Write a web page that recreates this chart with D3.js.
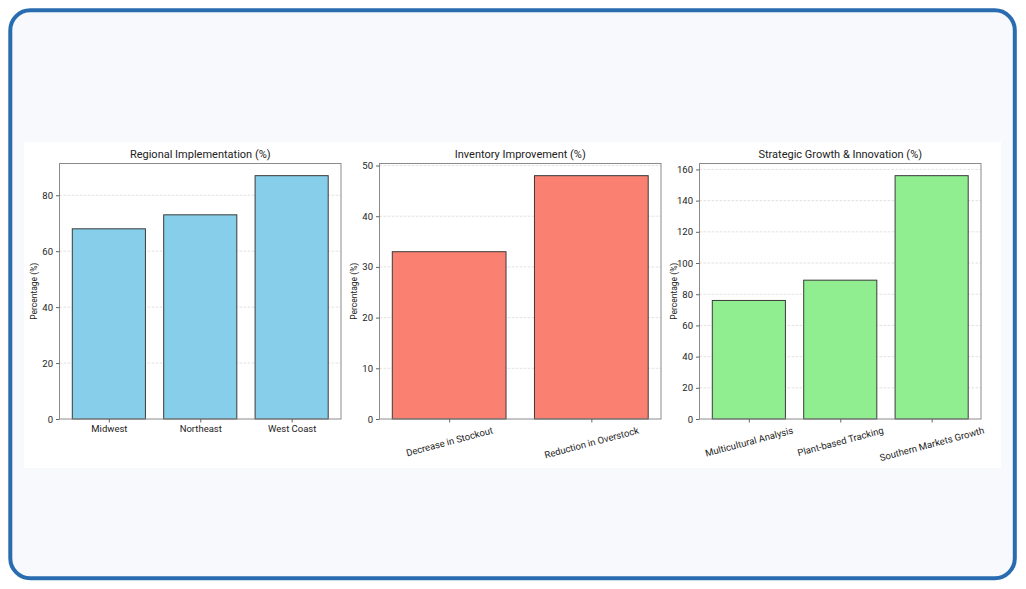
<!DOCTYPE html>
<html>
<head>
<meta charset="utf-8">
<script src="https://cdn.jsdelivr.net/npm/d3@7"></script>
<style>
  html, body { margin: 0; padding: 0; background: #ffffff; }
  svg { display: block; }
  text { font-family: Roboto, "Open Sans", sans-serif; fill: #222; }
</style>
</head>
<body>
<div id="chart"></div>
<script>
// data
let regionCats = ['Midwest', 'Northeast', 'West Coast'];
let regionVals = [68, 73, 87];

let inventoryCats = ['Decrease in Stockout', 'Reduction in Overstock'];
let inventoryVals = [33, 48];

let growthCats = ['Multicultural Analysis', 'Plant-based Tracking', 'Southern Markets Growth'];
let growthVals = [76, 89, 156];

let regionTicks = [0, 20, 40, 60, 80];
let inventoryTicks = [0, 10, 20, 30, 40, 50];
let growthTicks = [0, 20, 40, 60, 80, 100, 120, 140, 160];

let width = 1026;
let height = 589;

const svg = d3.select('#chart').append('svg')
  .attr('width', width)
  .attr('height', height);

// card background + frame
svg.append('rect')
  .attr('x', 10.3).attr('y', 10.3)
  .attr('width', 1004.5).attr('height', 568)
  .attr('rx', 20).attr('ry', 20)
  .attr('fill', '#f7f9fc')
  .attr('stroke', '#2a6cb0')
  .attr('stroke-width', 4);

// white figure area
svg.append('rect')
  .attr('x', 24).attr('y', 142)
  .attr('width', 977).attr('height', 326)
  .attr('fill', '#ffffff');

let panels = [
  { title: 'Regional Implementation (%)', cats: regionCats, vals: regionVals, ticks: regionTicks, color: '#87ceeb', left: 59.5, rotate: false },
  { title: 'Inventory Improvement (%)', cats: inventoryCats, vals: inventoryVals, ticks: inventoryTicks, color: '#fa8072', left: 379.5, rotate: true },
  { title: 'Strategic Growth & Innovation (%)', cats: growthCats, vals: growthVals, ticks: growthTicks, color: '#90ee90', left: 699.5, rotate: true }
];

let axTop = 163.5;
let axBottom = 419;
let axWidth = 281.5;

panels.forEach(p => {
  let n = p.cats.length;
  // matplotlib-like limits with 5% margins
  let x0 = -0.4, x1 = n - 1 + 0.4;
  let pad = (x1 - x0) * 0.05;
  let x = d3.scaleLinear()
    .domain([x0 - pad, x1 + pad])
    .range([p.left, p.left + axWidth]);

  let y = d3.scaleLinear()
    .domain([0, d3.max(p.vals) * 1.05])
    .range([axBottom, axTop]);

  let g = svg.append('g');

  // grid
  g.append('g')
    .selectAll('line')
    .data(p.ticks.filter(t => t > 0))
    .join('line')
    .attr('x1', p.left).attr('x2', p.left + axWidth)
    .attr('y1', d => y(d)).attr('y2', d => y(d))
    .attr('stroke', '#d4d4d4')
    .attr('stroke-width', 0.7)
    .attr('stroke-dasharray', '2.5,1.5');

  // bars
  g.append('g')
    .selectAll('rect')
    .data(p.vals)
    .join('rect')
    .attr('x', (d, i) => x(i - 0.4))
    .attr('width', (d, i) => x(i + 0.4) - x(i - 0.4))
    .attr('y', d => y(d))
    .attr('height', d => axBottom - y(d))
    .attr('fill', p.color)
    .attr('stroke', '#3a3a3a')
    .attr('stroke-width', 1);

  // frame
  g.append('rect')
    .attr('x', p.left).attr('y', axTop)
    .attr('width', axWidth).attr('height', axBottom - axTop)
    .attr('fill', 'none')
    .attr('stroke', '#8a8a8a')
    .attr('stroke-width', 1);

  // y axis
  let yAxis = g.append('g')
    .attr('transform', `translate(${p.left}, 0)`)
    .call(d3.axisLeft(y).tickValues(p.ticks).tickSize(3.5).tickPadding(3).tickFormat(d3.format('d')));
  yAxis.select('.domain').remove();
  yAxis.selectAll('.tick line').attr('stroke', '#666');
  yAxis.selectAll('.tick text').attr('font-size', 9.5).attr('fill', '#222').attr('font-family', 'Roboto, sans-serif');

  // x axis
  let xAxis = g.append('g')
    .attr('transform', `translate(0, ${axBottom})`)
    .call(d3.axisBottom(x).tickValues(d3.range(n)).tickSize(3.5).tickPadding(3).tickFormat(i => p.cats[i]));
  xAxis.select('.domain').remove();
  xAxis.selectAll('.tick line').attr('stroke', '#666');
  xAxis.selectAll('.tick text')
    .attr('font-size', 9.5).attr('fill', '#222').attr('font-family', 'Roboto, sans-serif');

  if (p.rotate) {
    xAxis.selectAll('.tick text').each(function() {
      let t = d3.select(this);
      let w = this.getComputedTextLength();
      let h = 11;
      let a = 15 * Math.PI / 180;
      let half = (w * Math.sin(a) + h * Math.cos(a)) / 2;
      t.attr('y', null).attr('dy', null)
        .attr('dominant-baseline', 'middle')
        .attr('transform', `translate(0, ${6.5 + half}) rotate(-15)`);
    });
  }

  // title
  g.append('text')
    .attr('x', p.left + axWidth / 2)
    .attr('y', axTop - 6)
    .attr('text-anchor', 'middle')
    .attr('font-size', 11)
    .text(p.title);

  // y label
  g.append('text')
    .attr('transform', `translate(${p.left - 23}, ${(axTop + axBottom) / 2}) rotate(-90)`)
    .attr('text-anchor', 'middle')
    .attr('font-size', 8.5)
    .text('Percentage (%)');
});
</script>
</body>
</html>
